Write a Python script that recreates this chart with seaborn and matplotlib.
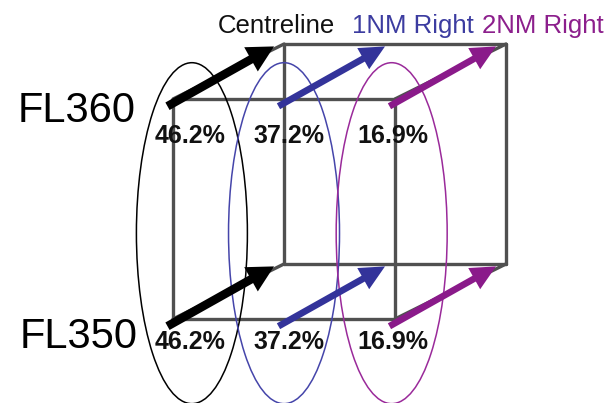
import pandas as pd
import matplotlib.pyplot as plt
from matplotlib.patches import Ellipse
import seaborn as sns

# Share of traffic on each lateral offset, same at both flight levels
levels = [360, 350]
level_labels = ['FL360', 'FL350']
offsets_nm = [0, 1, 2]
offset_labels = ['Centreline', '1NM Right', '2NM Right']
share_pct = [46.2, 37.2, 16.9]

track_colors = ['black', '#33339a', '#8a1a8a']
text_colors = ['#111111', '#3c3ca0', '#8c1f8c']
ring_colors = ['black', '#4545aa', '#9a2a9a']

# oblique projection of the along-track direction (NM, FL)
depth = (1.0, 2.5)

sns.set_theme(style='white')
plt.rcParams['font.family'] = ['Liberation Sans', 'DejaVu Sans']

fig = plt.figure(figsize=(6.09, 4.03), dpi=100)
ax = fig.add_axes([0, 0, 1, 1])

# box edges: front face, back face and the connecting edges
lo, hi = min(offsets_nm), max(offsets_nm)
bot, top = min(levels), max(levels)
front = [(lo, bot), (hi, bot), (hi, top), (lo, top)]
back = [(x + depth[0], y + depth[1]) for x, y in front]
rows = []
for i in range(4):
    j = (i + 1) % 4
    rows += [('f%d' % i, *front[i]), ('f%d' % i, *front[j])]
    rows += [('b%d' % i, *back[i]), ('b%d' % i, *back[j])]
    rows += [('d%d' % i, *front[i]), ('d%d' % i, *back[i])]
edges = pd.DataFrame(rows, columns=['edge', 'x', 'y'])
sns.lineplot(data=edges, x='x', y='y', units='edge', estimator=None, sort=False,
             color='#505050', lw=2.4, ax=ax, zorder=1)

# ellipses grouping each offset across both levels
ring_dx = [0.17, 0.0, -0.03]
for off, dx, c in zip(offsets_nm, ring_dx, ring_colors):
    ax.add_patch(Ellipse((off + dx, 353.9), 1.0, 15.5, fill=False, ec=c, lw=1.1, zorder=2))

# along-track arrows
for fl in levels:
    for off, c in zip(offsets_nm, track_colors):
        x0, y0 = off - 0.05, fl - 0.33
        if c == 'black':
            style = 'simple,head_length=1.9,head_width=2.0,tail_width=0.62'
        else:
            style = 'simple,head_length=1.8,head_width=1.75,tail_width=0.48'
        ax.annotate('', xy=(x0 + 0.96, y0 + 2.72), xytext=(x0, y0),
                    arrowprops=dict(arrowstyle=style, mutation_scale=10, color=c,
                                    lw=0, shrinkA=0, shrinkB=0),
                    zorder=3)

# percentages
pct_dx = [0.15, 0.045, -0.02]
pct_dy = [-2.0, -1.36]
for fl, dy in zip(levels, pct_dy):
    for off, dx, p in zip(offsets_nm, pct_dx, share_pct):
        ax.text(off + dx, fl + dy, f'{p}%', ha='center', va='baseline',
                fontsize=18, fontweight='bold', color='#111111', zorder=4)

# flight level labels
fl_x = [-0.34, -0.315]
fl_dy = [-1.05, -1.32]
for fl, lab, x, dy in zip(levels, level_labels, fl_x, fl_dy):
    ax.text(x, fl + dy, lab, ha='right', va='baseline', fontsize=30, color='black', zorder=4)

# header
head_x = [0.405, 1.613, 2.784]
for x, lab, c in zip(head_x, offset_labels, text_colors):
    ax.text(x, 363.0, lab, ha='left', va='baseline', fontsize=18.5, color=c, zorder=4)

ax.set_xlim(-1.559, 3.928)
ax.set_ylim(346.18, 364.5)
ax.axis('off')

fig.savefig('out.png', dpi=100, facecolor='white')
